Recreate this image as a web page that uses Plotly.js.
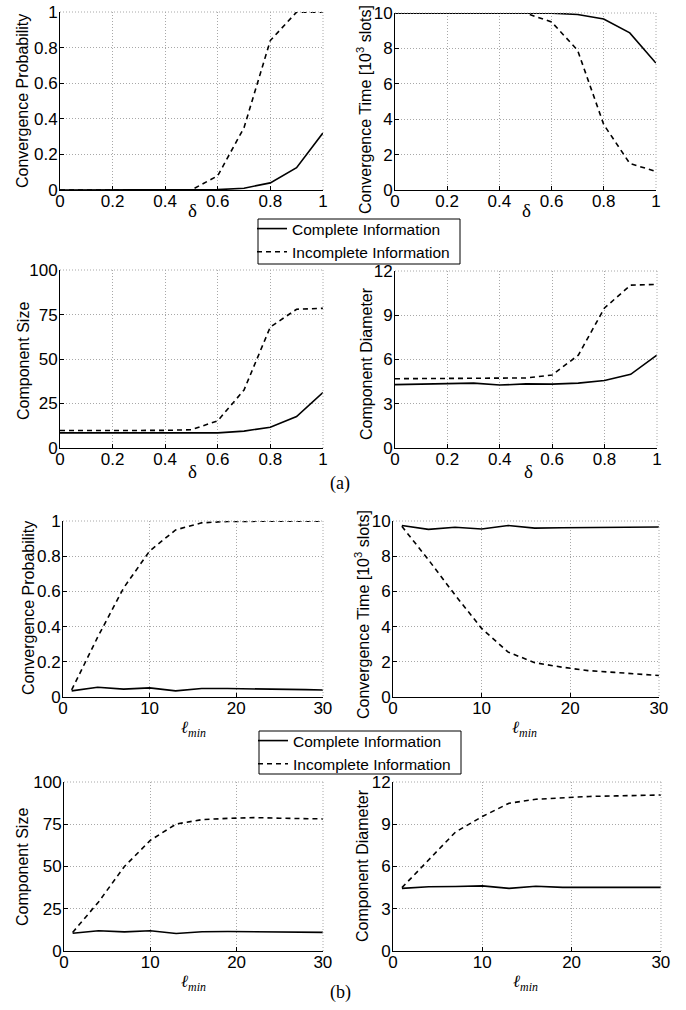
<!DOCTYPE html>
<html>
<head>
<meta charset="utf-8">
<script src="https://cdn.plot.ly/plotly-3.0.1.min.js"></script>
<style>html,body{margin:0;padding:0;background:#fff;}#chart{width:686px;height:1010px;}</style>
</head>
<body>
<div id="chart"></div>
<script>
// ---- data ----
const deltaX = [0, 0.1, 0.2, 0.3, 0.4, 0.5, 0.6, 0.7, 0.8, 0.9, 1];
const lminX = [1, 4, 7, 10, 13, 16, 19, 22, 25, 28, 30];

const aProbComplete   = [0, 0, 0, 0, 0, 0, 0.002, 0.01, 0.04, 0.125, 0.32];
const aProbIncomplete = [0, 0, 0, 0, 0, 0, 0.08, 0.35, 0.84, 1, 1];
const aTimeComplete   = [10, 10, 10, 10, 10, 10, 10, 9.92, 9.67, 8.88, 7.18];
const aTimeIncomplete = [10, 10, 10, 10, 10, 10, 9.5, 7.9, 3.7, 1.5, 1.05];
const aSizeComplete   = [8.5, 8.5, 8.5, 8.5, 8.4, 8.5, 8.5, 9.5, 11.7, 17.7, 31.2];
const aSizeIncomplete = [9.8, 9.8, 9.8, 9.8, 9.9, 10.3, 15.3, 32.6, 68, 78, 78.5];
const aDiamComplete   = [4.3, 4.35, 4.4, 4.4, 4.27, 4.35, 4.33, 4.4, 4.58, 5.0, 6.3];
const aDiamIncomplete = [4.7, 4.7, 4.7, 4.7, 4.75, 4.75, 4.95, 6.3, 9.5, 11.05, 11.1];

const bProbComplete   = [0.035, 0.055, 0.045, 0.052, 0.035, 0.048, 0.048, 0.047, 0.044, 0.042, 0.04];
const bProbIncomplete = [0.04, 0.34, 0.62, 0.83, 0.95, 0.99, 0.998, 1, 1, 1, 1];
const bTimeComplete   = [9.75, 9.53, 9.65, 9.55, 9.75, 9.6, 9.62, 9.62, 9.64, 9.65, 9.66];
const bTimeIncomplete = [9.7, 7.8, 5.8, 3.9, 2.55, 1.95, 1.7, 1.5, 1.4, 1.3, 1.22];
const bSizeComplete   = [10.5, 12, 11.3, 12, 10.4, 11.4, 11.5, 11.4, 11.2, 11.1, 11];
const bSizeIncomplete = [11, 29, 50, 65.5, 75.2, 77.8, 78.5, 79, 78.6, 78.3, 78.2];
const bDiamComplete   = [4.45, 4.56, 4.58, 4.63, 4.45, 4.6, 4.52, 4.52, 4.52, 4.5, 4.52];
const bDiamIncomplete = [4.5, 6.45, 8.45, 9.55, 10.5, 10.78, 10.9, 10.98, 11.02, 11.05, 11.08];

const seriesNames = ['Complete Information', 'Incomplete Information'];
const yTitles = ['Convergence Probability', 'Convergence Time [10<sup>3</sup> slots]', 'Component Size', 'Component Diameter'];
const xTitles = ['δ', '<i>ℓ<sub>min</sub></i>'];
const probTicks = [0, 0.2, 0.4, 0.6, 0.8, 1];
const timeTicks = [0, 2, 4, 6, 8, 10];
const sizeTicks = [0, 25, 50, 75, 100];
const diamTicks = [0, 3, 6, 9, 12];
const deltaTicks = [0, 0.2, 0.4, 0.6, 0.8, 1];
const lminTicks = [0, 10, 20, 30];

// ---- layout geometry (pixels) ----
const W = 686, H = 1010;
const boxes = [
  {x:[60,323],  y:[12,190]},
  {x:[395,656], y:[13,190]},
  {x:[60,323],  y:[270,448]},
  {x:[395,657], y:[271,448]},
  {x:[63,323],  y:[521,697]},
  {x:[393,659], y:[521,697]},
  {x:[64,323],  y:[782,951]},
  {x:[393,661], y:[782,951]}
];
// axis-title centres in pixels: [ytitle x, ytitle y, xtitle x, xtitle y]
const titlePos = [
  [23, 101, 192, 211],
  [364, 110, 526, 211],
  [23, 361, 192, 472],
  [366, 364, 528, 472],
  [28, 608, 193, 729],
  [362, 615, 524, 729],
  [22, 867, 193, 983],
  [362, 866, 525, 983]
];
// legend frames in pixels: [left, top, right, bottom]
const legendFrames = [[258, 219, 460, 264], [259, 731, 461, 774]];

const panels = [
  {xs: deltaX, c: aProbComplete, i: aProbIncomplete, yr:[0,1],   yt: probTicks, xr:[0,1],  xt: deltaTicks, title: 0, xl: 0, leg: 'legend'},
  {xs: deltaX, c: aTimeComplete, i: aTimeIncomplete, yr:[0,10],  yt: timeTicks, xr:[0,1],  xt: deltaTicks, title: 1, xl: 0},
  {xs: deltaX, c: aSizeComplete, i: aSizeIncomplete, yr:[0,100], yt: sizeTicks, xr:[0,1],  xt: deltaTicks, title: 2, xl: 0},
  {xs: deltaX, c: aDiamComplete, i: aDiamIncomplete, yr:[0,12],  yt: diamTicks, xr:[0,1],  xt: deltaTicks, title: 3, xl: 0},
  {xs: lminX,  c: bProbComplete, i: bProbIncomplete, yr:[0,1],   yt: probTicks, xr:[0,30], xt: lminTicks, title: 0, xl: 1, leg: 'legend2'},
  {xs: lminX,  c: bTimeComplete, i: bTimeIncomplete, yr:[0,10],  yt: timeTicks, xr:[0,30], xt: lminTicks, title: 1, xl: 1},
  {xs: lminX,  c: bSizeComplete, i: bSizeIncomplete, yr:[0,100], yt: sizeTicks, xr:[0,30], xt: lminTicks, title: 2, xl: 1},
  {xs: lminX,  c: bDiamComplete, i: bDiamIncomplete, yr:[0,12],  yt: diamTicks, xr:[0,30], xt: lminTicks, title: 3, xl: 1}
];

const SANS = 'Liberation Sans, Arial, sans-serif';
const SERIF = 'Liberation Serif, Times New Roman, serif';
const GRID = '#a8a8a8';
const GRIDDASH = '1px,2px';

const traces = [];
const layout = {
  width: W, height: H,
  margin: {l:0, r:0, t:0, b:0},
  paper_bgcolor: '#fff', plot_bgcolor: '#fff',
  font: {family: SANS, size: 16, color: '#000'},
  showlegend: true,
  shapes: [],
  annotations: []
};

panels.forEach((p, k) => {
  const n = k + 1;
  const xa = n === 1 ? 'x' : 'x' + n;
  const ya = n === 1 ? 'y' : 'y' + n;
  const b = boxes[k];
  const tp = titlePos[k];
  [p.c, p.i].forEach((vals, s) => {
    traces.push({
      type: 'scatter', mode: 'lines',
      x: p.xs, y: vals,
      xaxis: xa, yaxis: ya,
      name: seriesNames[s],
      legend: p.leg || 'legend',
      showlegend: !!p.leg,
      line: {color: '#000', width: 1.6, dash: s === 0 ? 'solid' : '5px,4px'},
      hoverinfo: 'skip'
    });
  });
  const axCommon = {
    showline: true, linecolor: '#000', linewidth: 1,
    ticks: 'inside', ticklen: 4, tickcolor: '#000', tickwidth: 1,
    showgrid: true, gridcolor: GRID, griddash: GRIDDASH, gridwidth: 1,
    zeroline: false, fixedrange: true,
    tickfont: {family: SANS, size: 17, color: '#000'}
  };
  layout['xaxis' + (n === 1 ? '' : n)] = Object.assign({}, axCommon, {
    domain: [b.x[0] / W, b.x[1] / W], ticklabelstandoff: -4,
    anchor: ya, range: [p.xr[0], p.xr[1] * 1.0005], tickmode: 'array', tickvals: p.xt, ticktext: p.xt.map(String)
  });
  layout['yaxis' + (n === 1 ? '' : n)] = Object.assign({}, axCommon, {
    domain: [1 - b.y[1] / H, 1 - b.y[0] / H], ticklabelstandoff: -2,
    anchor: xa, range: [p.yr[0], p.yr[1] * 1.0005], tickmode: 'array', tickvals: p.yt, ticktext: p.yt.map(String)
  });
  // axis titles
  layout.annotations.push({text: yTitles[p.title], xref:'paper', yref:'paper',
    x: tp[0]/W, y: 1-tp[1]/H, textangle: -90, showarrow:false,
    xanchor:'center', yanchor:'middle', font:{family: SANS, size: 16, color:'#000'}});
  layout.annotations.push({text: xTitles[p.xl], xref:'paper', yref:'paper',
    x: tp[2]/W, y: 1-tp[3]/H, showarrow:false, xanchor:'center', yanchor:'middle',
    font:{family: SERIF, size: p.xl === 0 ? 19 : 17, color:'#000'}});
  // dotted top / right borders (grid continuation, as in MATLAB)
  layout.shapes.push({type:'line', xref:'paper', yref:'paper',
    x0: b.x[0]/W, x1: b.x[1]/W, y0: 1-b.y[0]/H, y1: 1-b.y[0]/H,
    line:{color:GRID, width:1, dash:GRIDDASH}});
  layout.shapes.push({type:'line', xref:'paper', yref:'paper',
    x0: b.x[1]/W, x1: b.x[1]/W, y0: 1-b.y[0]/H, y1: 1-b.y[1]/H,
    line:{color:GRID, width:1, dash:GRIDDASH}});
});

// legend frames
legendFrames.forEach(f => {
  layout.shapes.push({type:'rect', xref:'paper', yref:'paper',
    x0: f[0]/W, x1: f[2]/W, y0: 1-f[1]/H, y1: 1-f[3]/H,
    line:{color:'#000', width:1}, fillcolor:'rgba(0,0,0,0)'});
});

const legStyle = {
  bgcolor: 'rgba(0,0,0,0)', borderwidth: 0,
  font: {family: SANS, size: 15.5, color: '#000'},
  xanchor: 'left', yanchor: 'top', orientation: 'v',
  tracegroupgap: 0, itemwidth: 30
};
layout.legend = Object.assign({}, legStyle, {x: 252 / W, y: 1 - 212 / H});
layout.legend2 = Object.assign({}, legStyle, {x: 253 / W, y: 1 - 724 / H});

layout.annotations.push({text: '(a)', xref:'paper', yref:'paper', x: 340/W, y: 1-483/H,
  showarrow:false, xanchor:'center', yanchor:'middle', font:{family: SERIF, size: 18, color:'#000'}});
layout.annotations.push({text: '(b)', xref:'paper', yref:'paper', x: 340/W, y: 1-992/H,
  showarrow:false, xanchor:'center', yanchor:'middle', font:{family: SERIF, size: 18, color:'#000'}});

Plotly.newPlot('chart', traces, layout, {staticPlot: true, displayModeBar: false});
</script>
</body>
</html>
